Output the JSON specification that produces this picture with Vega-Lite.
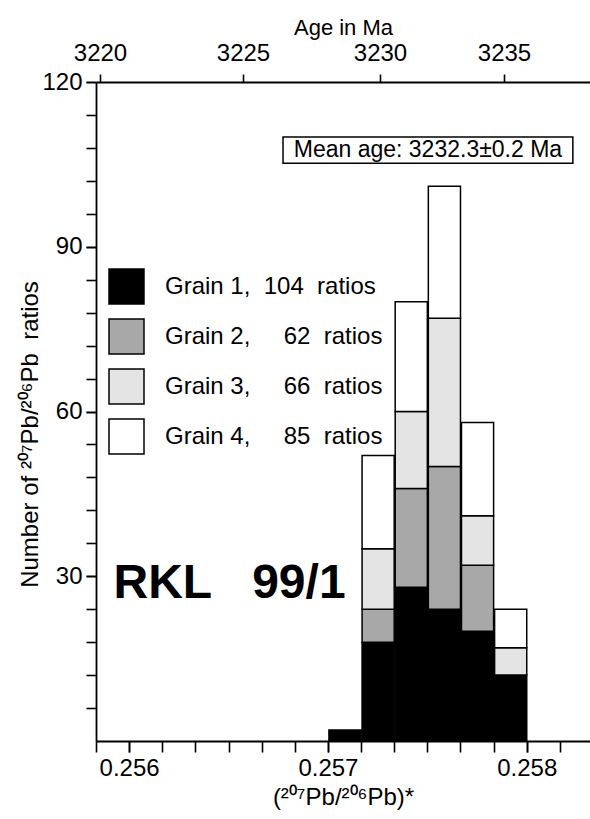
{
  "$schema": "https://vega.github.io/schema/vega-lite/v6.json",
  "width": 494,
  "height": 659,
  "autosize": {"type": "none"},
  "padding": {"left": 96, "top": 82, "right": 0, "bottom": 78},
  "background": "white",
  "config": {
    "view": {"stroke": null},
    "font": "Liberation Sans",
    "axis": {
      "domainColor": "black", "domainWidth": 1.8,
      "tickColor": "black", "tickWidth": 1.6,
      "labelColor": "black", "titleColor": "black",
      "labelFont": "Liberation Sans", "titleFont": "Liberation Sans",
      "labelFontSize": 24, "titleFontSize": 24, "titleFontWeight": "normal",
      "grid": false, "labelOverlap": false, "labelFlush": false
    }
  },
  "layer": [
    {
      "resolve": {"axis": {"x": "independent", "y": "independent"}},
      "layer": [
        {
          "data": {"values": [
            {"lo": 0.257, "hi": 0.2571667, "grain": "Grain\u00a01,\u00a0\u00a0104\u00a0\u00a0ratios", "n": 2},
            {"lo": 0.2571667, "hi": 0.2573333, "grain": "Grain\u00a01,\u00a0\u00a0104\u00a0\u00a0ratios", "n": 18},
            {"lo": 0.2571667, "hi": 0.2573333, "grain": "Grain\u00a02,\u00a0\u00a0\u2007\u00a062\u00a0\u00a0ratios", "n": 6},
            {"lo": 0.2571667, "hi": 0.2573333, "grain": "Grain\u00a03,\u00a0\u00a0\u2007\u00a066\u00a0\u00a0ratios", "n": 11},
            {"lo": 0.2571667, "hi": 0.2573333, "grain": "Grain\u00a04,\u00a0\u00a0\u2007\u00a085\u00a0\u00a0ratios", "n": 17},
            {"lo": 0.2573333, "hi": 0.2575, "grain": "Grain\u00a01,\u00a0\u00a0104\u00a0\u00a0ratios", "n": 28},
            {"lo": 0.2573333, "hi": 0.2575, "grain": "Grain\u00a02,\u00a0\u00a0\u2007\u00a062\u00a0\u00a0ratios", "n": 18},
            {"lo": 0.2573333, "hi": 0.2575, "grain": "Grain\u00a03,\u00a0\u00a0\u2007\u00a066\u00a0\u00a0ratios", "n": 14},
            {"lo": 0.2573333, "hi": 0.2575, "grain": "Grain\u00a04,\u00a0\u00a0\u2007\u00a085\u00a0\u00a0ratios", "n": 20},
            {"lo": 0.2575, "hi": 0.2576667, "grain": "Grain\u00a01,\u00a0\u00a0104\u00a0\u00a0ratios", "n": 24},
            {"lo": 0.2575, "hi": 0.2576667, "grain": "Grain\u00a02,\u00a0\u00a0\u2007\u00a062\u00a0\u00a0ratios", "n": 26},
            {"lo": 0.2575, "hi": 0.2576667, "grain": "Grain\u00a03,\u00a0\u00a0\u2007\u00a066\u00a0\u00a0ratios", "n": 27},
            {"lo": 0.2575, "hi": 0.2576667, "grain": "Grain\u00a04,\u00a0\u00a0\u2007\u00a085\u00a0\u00a0ratios", "n": 24},
            {"lo": 0.2576667, "hi": 0.2578333, "grain": "Grain\u00a01,\u00a0\u00a0104\u00a0\u00a0ratios", "n": 20},
            {"lo": 0.2576667, "hi": 0.2578333, "grain": "Grain\u00a02,\u00a0\u00a0\u2007\u00a062\u00a0\u00a0ratios", "n": 12},
            {"lo": 0.2576667, "hi": 0.2578333, "grain": "Grain\u00a03,\u00a0\u00a0\u2007\u00a066\u00a0\u00a0ratios", "n": 9},
            {"lo": 0.2576667, "hi": 0.2578333, "grain": "Grain\u00a04,\u00a0\u00a0\u2007\u00a085\u00a0\u00a0ratios", "n": 17},
            {"lo": 0.2578333, "hi": 0.258, "grain": "Grain\u00a01,\u00a0\u00a0104\u00a0\u00a0ratios", "n": 12},
            {"lo": 0.2578333, "hi": 0.258, "grain": "Grain\u00a03,\u00a0\u00a0\u2007\u00a066\u00a0\u00a0ratios", "n": 5},
            {"lo": 0.2578333, "hi": 0.258, "grain": "Grain\u00a04,\u00a0\u00a0\u2007\u00a085\u00a0\u00a0ratios", "n": 7}
          ]},
          "mark": {"type": "bar", "stroke": "black", "strokeWidth": 1.5},
          "encoding": {
            "x": {
              "field": "lo", "type": "quantitative", "bin": "binned",
              "scale": {"domain": [0.2558333, 0.2583182], "nice": false, "zero": false},
              "axis": {
                "orient": "bottom",
                "values": [0.256, 0.257, 0.258], "format": ".3f",
                "tickSize": 11, "labelPadding": 4, "labelFontSize": 24, "labelFont": "Liberation Sans",
                "title": "(\u00b2\u2070\u2077Pb/\u00b2\u2070\u2076Pb)*", "titlePadding": 5, "titleFontSize": 24
              }
            },
            "x2": {"field": "hi"},
            "y": {
              "field": "n", "type": "quantitative", "stack": "zero",
              "scale": {"domain": [0, 120], "nice": false},
              "axis": {
                "orient": "left",
                "values": [30, 60, 90, 120], "format": "d",
                "tickSize": 10, "labelPadding": 4, "labelFontSize": 24, "labelFont": "Liberation Sans",
                "title": "Number of \u00b2\u2070\u2077Pb/\u00b2\u2070\u2076Pb\u00a0\u00a0ratios",
                "titleFontSize": 24, "titleBaseline": "middle", "titleX": -66, "titleY": 352
              }
            },
            "color": {
              "field": "grain", "type": "nominal",
              "scale": {
                "domain": ["Grain\u00a01,\u00a0\u00a0104\u00a0\u00a0ratios", "Grain\u00a02,\u00a0\u00a0\u2007\u00a062\u00a0\u00a0ratios", "Grain\u00a03,\u00a0\u00a0\u2007\u00a066\u00a0\u00a0ratios", "Grain\u00a04,\u00a0\u00a0\u2007\u00a085\u00a0\u00a0ratios"],
                "range": ["#000000", "#a8a8a8", "#e4e4e4", "#ffffff"]
              },
              "legend": {
                "orient": "none", "legendX": 12, "legendY": 186,
                "title": null, "symbolType": "square", "symbolSize": 1225,
                "symbolStrokeColor": "black", "symbolStrokeWidth": 1.5, "symbolOpacity": 1,
                "labelFontSize": 24, "labelColor": "black", "labelFont": "Liberation Sans",
                "rowPadding": 9, "labelOffset": 20, "labelLimit": 400
              }
            },
            "order": {"field": "grain"}
          }
        },
        {
          "data": {"values": [{"lo": 0.257, "n": 2}]},
          "mark": {"type": "point", "opacity": 0},
          "encoding": {
            "x": {
              "field": "lo", "type": "quantitative",
              "axis": {
                "orient": "bottom", "domain": false, "labels": false, "title": null,
                "values": [0.2558333, 0.256, 0.2561667, 0.2563333, 0.2565, 0.2566667, 0.2568333, 0.257, 0.2571667, 0.2573333, 0.2575, 0.2576667, 0.2578333, 0.258, 0.2581667],
                "tickSize": 11
              }
            },
            "y": {
              "field": "n", "type": "quantitative",
              "axis": {
                "orient": "left", "domain": false, "labels": false, "title": null,
                "values": [6, 12, 18, 24, 30, 36, 42, 48, 54, 60, 66, 72, 78, 84, 90, 96, 102, 108, 114, 120],
                "tickSize": 10
              }
            }
          }
        },
        {
          "data": {"values": [{}]},
          "mark": {"type": "rect", "fill": "white", "stroke": "black", "strokeWidth": 1.5},
          "encoding": {
            "x": {"datum": 0.256774, "type": "quantitative", "axis": null},
            "x2": {"datum": 0.258232},
            "y": {"datum": 105.2, "type": "quantitative", "axis": null},
            "y2": {"datum": 110}
          }
        },
        {
          "data": {"values": [{}]},
          "mark": {"type": "text", "text": "Mean age: 3232.3\u00b10.2 Ma", "fontSize": 23, "font": "Liberation Sans", "align": "center", "baseline": "middle", "color": "black"},
          "encoding": {
            "x": {"datum": 0.257503, "type": "quantitative", "axis": null},
            "y": {"datum": 107.6, "type": "quantitative", "axis": null}
          }
        },
        {
          "data": {"values": [{}]},
          "mark": {"type": "text", "text": "RKL\u00a0\u00a0\u00a099/1", "fontSize": 48, "fontWeight": "bold", "font": "Liberation Sans", "align": "center", "baseline": "alphabetic", "color": "black"},
          "encoding": {
            "x": {"datum": 0.256505, "type": "quantitative", "axis": null},
            "y": {"datum": 26, "type": "quantitative", "axis": null}
          }
        }
      ]
    },
    {
      "data": {"values": [{"age": 3220}, {"age": 3235}]},
      "mark": {"type": "point", "opacity": 0},
      "encoding": {
        "x": {
          "field": "age", "type": "quantitative",
          "scale": {"domain": [3219.86, 3220, 3225, 3230, 3235, 3238.47], "range": [0, 4, 147, 284, 408, 494]},
          "axis": {
            "orient": "top", "values": [3220, 3225, 3230, 3235], "format": "d",
            "tickSize": 8, "labelPadding": 9, "labelFontSize": 24, "labelFont": "Liberation Sans",
            "title": "Age in Ma", "titlePadding": 2, "titleFontSize": 22
          }
        }
      }
    }
  ],
  "resolve": {"scale": {"x": "independent"}, "axis": {"x": "independent"}}
}
